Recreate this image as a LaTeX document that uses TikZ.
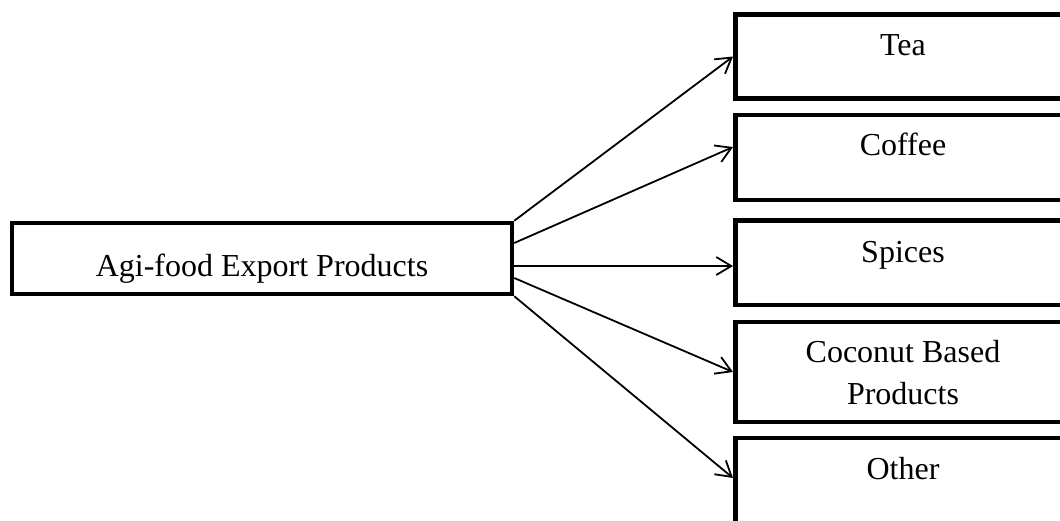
\documentclass[tikz,border=0pt]{standalone}
\usepackage{fontspec}
\setmainfont{Liberation Serif}
\usetikzlibrary{arrows.meta}
\begin{document}
\begin{tikzpicture}[x=1pt,y=-1pt,
  box/.style={draw=black,line width=4.5pt,fill=white,rectangle,inner sep=0pt},
  lbl/.style={anchor=base,inner sep=0pt,font=\fontsize{32}{42}\selectfont},
  conn/.style={draw=black,line width=1.8pt,-{Straight Barb[length=15pt,width=18pt,line width=1.8pt]}}]
\useasboundingbox (0,0) rectangle (1060,520);
\fill[white] (0,0) rectangle (1060,520);
% source box
\node[box,minimum width=500pt,minimum height=71pt] (src) at (262,258.5) {};
\node[lbl] (srct) at (262,276.5) {Agi-food Export Products};
% target boxes
\node[box,minimum width=335.5pt,minimum height=84pt] (tea) at (903,56.5) {};
\node[lbl] (teat) at (903,55) {Tea};
\node[box,minimum width=335.5pt,minimum height=85pt] (coffee) at (903,157.5) {};
\node[lbl] (coffeet) at (903,155) {Coffee};
\node[box,minimum width=335.5pt,minimum height=84.5pt] (spices) at (903,262.75) {};
\node[lbl] (spicest) at (903,262) {Spices};
\node[box,minimum width=335.5pt,minimum height=100pt] (coconut) at (903,372) {};
\node[lbl] (coconutt1) at (903,362) {Coconut Based};
\node[lbl] (coconutt2) at (903,404) {Products};
\node[box,minimum width=335.5pt,minimum height=85pt] (other) at (903,480.5) {};
\node[lbl] (othert) at (903,479) {Other};
% connectors
\draw[conn] (src.north east) -- (tea.west);
\draw[conn] ([yshift=15.5pt]src.east) -- ([yshift=10.5pt]coffee.west);
\draw[conn] ([yshift=-7.5pt]src.east) -- ([yshift=-3.25pt]spices.west);
\draw[conn] ([yshift=-19.5pt]src.east) -- (coconut.west);
\draw[conn] (src.south east) -- ([yshift=2.5pt]other.west);
\end{tikzpicture}
\end{document}
